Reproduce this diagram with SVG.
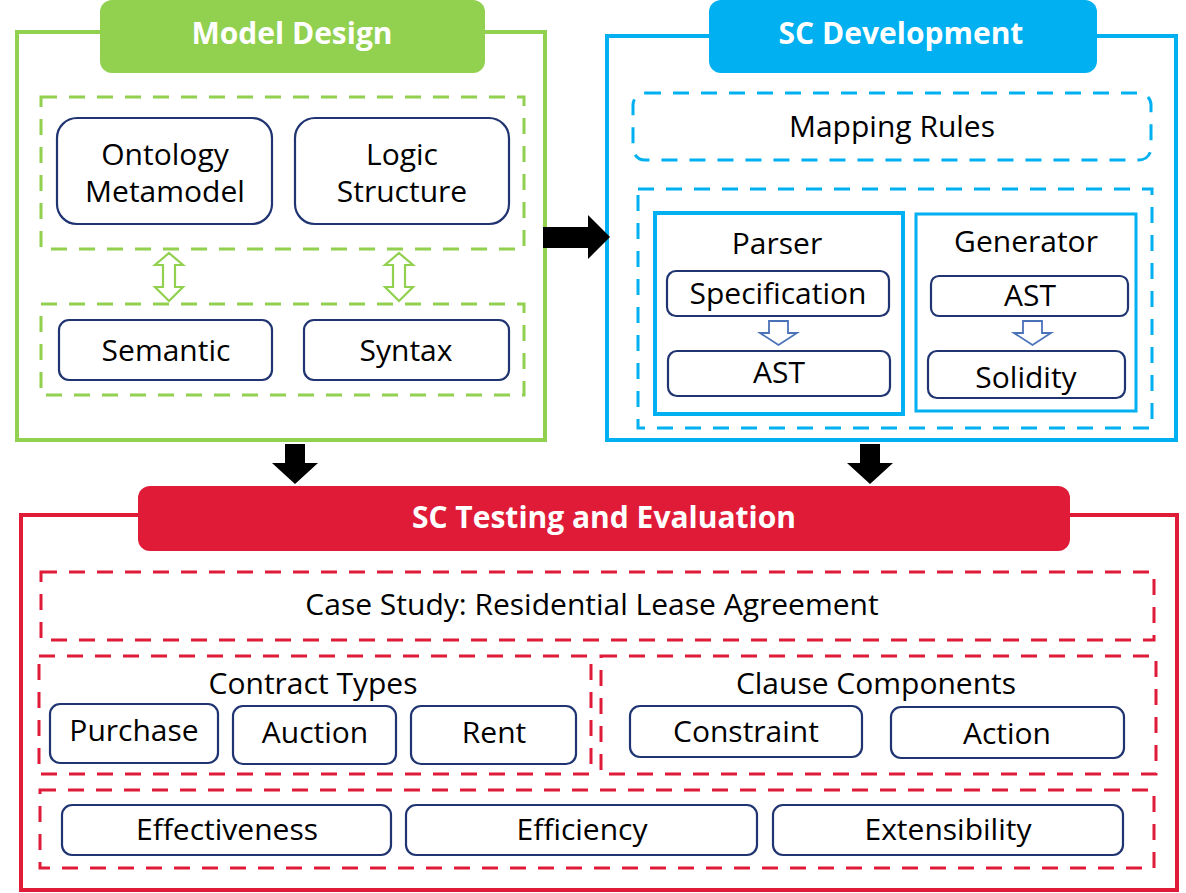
<svg xmlns="http://www.w3.org/2000/svg" width="1186" height="893" viewBox="0 0 1186 893">
<style>
text{font-family:"Open Sans","Noto Sans","Liberation Sans",sans-serif;fill:#000;text-anchor:middle}
.t{font-size:30px}
.h{font-size:30px;font-weight:bold;fill:#fff}
.box{fill:#fff;stroke:#1F3470;stroke-width:2.2}
.gd{fill:none;stroke:#92D050;stroke-width:3;stroke-dasharray:16 12}
.bd{fill:none;stroke:#00B0F0;stroke-width:3;stroke-dasharray:16 12}
.rd{fill:none;stroke:#E01B38;stroke-width:3;stroke-dasharray:16 12}
</style>
<rect width="1186" height="893" fill="#fff"/>

<g id="model-design">
<rect x="17" y="32" width="528" height="408" fill="none" stroke="#92D050" stroke-width="4"/>
<rect x="100" y="0" width="385" height="73" rx="12" fill="#92D050"/>
<text class="h" x="292" y="44">Model Design</text>
<rect class="gd" x="41" y="97" width="483" height="152"/>
<rect class="gd" x="41" y="304" width="483" height="91"/>
<g id="ontology"><rect class="box" x="57" y="118" width="215" height="106" rx="20"/>
<text class="t" x="165" y="165">Ontology</text><text class="t" x="165" y="202">Metamodel</text></g>
<g id="logic"><rect class="box" x="295" y="118" width="214" height="106" rx="20"/>
<text class="t" x="402" y="165">Logic</text><text class="t" x="402" y="202">Structure</text></g>
<g id="semantic"><rect class="box" x="59" y="320" width="213" height="60" rx="10"/>
<text class="t" x="166" y="361">Semantic</text></g>
<g id="syntax"><rect class="box" x="304" y="320" width="205" height="60" rx="10"/>
<text class="t" x="406" y="361">Syntax</text></g>
</g>

<g id="sc-development">
<rect x="607" y="36" width="569" height="404" fill="none" stroke="#00B0F0" stroke-width="4"/>
<rect x="709" y="0" width="388" height="73" rx="12" fill="#00B0F0"/>
<text class="h" x="901" y="44">SC Development</text>
<rect class="bd" x="633" y="93" width="518" height="67" rx="12"/>
<text class="t" x="892" y="137">Mapping Rules</text>
<rect class="bd" x="638" y="189" width="514" height="239"/>
<g id="parser"><rect x="655" y="213" width="248" height="201" fill="none" stroke="#00B0F0" stroke-width="4"/>
<text class="t" x="777" y="254">Parser</text></g>
<g id="spec"><rect class="box" x="667" y="271" width="222" height="45" rx="9"/>
<text class="t" x="778" y="304">Specification</text></g>
<g id="ast1"><rect class="box" x="668" y="351" width="222" height="45" rx="9"/>
<text class="t" x="779" y="383">AST</text></g>
<g id="generator"><rect x="916" y="214" width="220" height="197" fill="none" stroke="#00B0F0" stroke-width="3"/>
<text class="t" x="1026" y="252">Generator</text></g>
<g id="ast2"><rect class="box" x="931" y="276" width="197" height="40" rx="8"/>
<text class="t" x="1030" y="306">AST</text></g>
<g id="solidity"><rect class="box" x="928" y="351" width="197" height="47" rx="9"/>
<text class="t" x="1026" y="388">Solidity</text></g>
</g>

<g id="sc-testing">
<rect x="21" y="515" width="1156" height="375" fill="none" stroke="#E01B38" stroke-width="4"/>
<rect x="138" y="486" width="932" height="65" rx="12" fill="#E01B38"/>
<text class="h" x="604" y="528">SC Testing and Evaluation</text>
<rect class="rd" x="41" y="572" width="1113" height="68"/>
<text class="t" x="592" y="615">Case Study: Residential Lease Agreement</text>
<rect class="rd" x="39" y="656" width="552" height="118"/>
<text class="t" x="313" y="694">Contract Types</text>
<rect class="rd" x="601" y="656" width="555" height="118"/>
<text class="t" x="876" y="694">Clause Components</text>
<g id="purchase"><rect class="box" x="50" y="704" width="168" height="59" rx="10"/>
<text class="t" x="134" y="741">Purchase</text></g>
<g id="auction"><rect class="box" x="233" y="706" width="163" height="58" rx="10"/>
<text class="t" x="315" y="743">Auction</text></g>
<g id="rent"><rect class="box" x="411" y="706" width="165" height="58" rx="10"/>
<text class="t" x="494" y="743">Rent</text></g>
<g id="constraint"><rect class="box" x="630" y="706" width="232" height="51" rx="10"/>
<text class="t" x="746" y="742">Constraint</text></g>
<g id="action"><rect class="box" x="891" y="707" width="233" height="51" rx="10"/>
<text class="t" x="1007" y="744">Action</text></g>
<rect class="rd" x="40" y="790" width="1114" height="78"/>
<g id="effectiveness"><rect class="box" x="62" y="805" width="329" height="50" rx="10"/>
<text class="t" x="227" y="840">Effectiveness</text></g>
<g id="efficiency"><rect class="box" x="406" y="805" width="351" height="50" rx="10"/>
<text class="t" x="582" y="840">Efficiency</text></g>
<g id="extensibility"><rect class="box" x="773" y="805" width="350" height="50" rx="10"/>
<text class="t" x="948" y="840">Extensibility</text></g>
</g>

<g id="connectors">
<path d="M169 253 L183 265 L175 265 L175 287 L183 287 L169 301 L155 287 L163 287 L163 265 L155 265 Z" fill="#fff" stroke="#92D050" stroke-width="2.2"/>
<path d="M399 253 L413 265 L405 265 L405 287 L413 287 L399 301 L385 287 L393 287 L393 265 L385 265 Z" fill="#fff" stroke="#92D050" stroke-width="2.2"/>
<path d="M769 321 L788 321 L788 333 L797 333 L778.5 345 L760 333 L769 333 Z" fill="#fff" stroke="#4A72B8" stroke-width="1.8"/>
<path d="M1023 321 L1042 321 L1042 333 L1051 333 L1032.5 345 L1014 333 L1023 333 Z" fill="#fff" stroke="#4A72B8" stroke-width="1.8"/>
<path d="M543 227 L588 227 L588 215 L610 237 L588 259 L588 248 L543 248 Z" fill="#000"/>
<path d="M285 444 L305 444 L305 463 L318 463 L295 484 L272 463 L285 463 Z" fill="#000"/>
<path d="M860 444 L880 444 L880 463 L893 463 L870 484 L847 463 L860 463 Z" fill="#000"/>
</g>
</svg>
